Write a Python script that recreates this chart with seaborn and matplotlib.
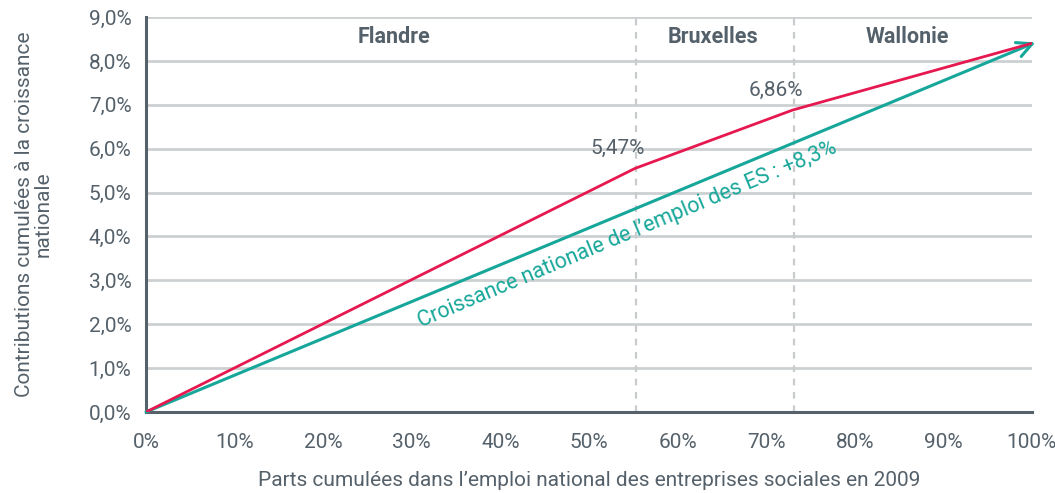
import matplotlib
matplotlib.use('Agg')
import matplotlib.pyplot as plt
import seaborn as sns
import pandas as pd
from matplotlib.ticker import FuncFormatter

# Cumulative shares of national employment (x, %) and cumulative contributions (y, %)
parts_cumulees = [0.0, 55.2, 73.0, 100.0]
contributions = [0.0, 5.55, 6.88, 8.40]
croissance_nationale = 8.42
frontieres = [55.3, 73.1]
regions = ['Flandre', 'Bruxelles', 'Wallonie']
regions_x = [28.0, 64.0, 86.0]
etiquettes = ['5,47%', '6,86%']
etiquettes_x = [53.2, 71.1]
etiquettes_y = [6.0, 7.33]

df = pd.DataFrame({'x': parts_cumulees, 'y': contributions})

sns.set_theme(style='white')
plt.rcParams['font.family'] = ['Roboto', 'DejaVu Sans']

txt = '#55616a'
spine = '#56626a'
red = '#e5194f'
teal = '#17a79a'
fs = 15

fig = plt.figure(figsize=(10.55, 4.93), dpi=100)
ax = fig.add_axes([0.1384, 0.1643, 0.978 - 0.1384, 0.9655 - 0.1643])

for yv in range(1, 10):
    ax.axhline(yv, color='#cdd0d2', lw=2, zorder=0)
for fx in frontieres:
    ax.axvline(fx, color='#c9cccd', lw=1.6, ls=(0, (3, 3)), zorder=1)

# national growth line as arrow
ax.annotate('', xy=(100.4, croissance_nationale), xytext=(0, 0),
            arrowprops=dict(arrowstyle='->,head_length=0.9,head_width=0.45',
                            color=teal, lw=2.2, shrinkA=0, shrinkB=0),
            annotation_clip=False, zorder=3)

sns.lineplot(data=df, x='x', y='y', color=red, lw=2, ax=ax, zorder=4)

for name, rx in zip(regions, regions_x):
    ax.text(rx, 8.55, name, ha='center', va='center', fontsize=15.5,
            fontweight='bold', color=txt)
for lab, lx, ly in zip(etiquettes, etiquettes_x, etiquettes_y):
    ax.text(lx, ly, lab, ha='center', va='center', fontsize=fs, color=txt)

ax.text(54.3, 4.05, 'Croissance nationale de l\u2019emploi des ES : +8,3%',
        rotation=22.8, rotation_mode='anchor', ha='center', va='center',
        fontsize=15.5, color=teal)

ax.set_xlim(0, 100)
ax.set_ylim(0, 9)
ax.set_xticks(range(0, 101, 10))
ax.set_yticks(range(0, 10))
ax.xaxis.set_major_formatter(FuncFormatter(lambda v, p: f'{int(v)}%'))
ax.yaxis.set_major_formatter(FuncFormatter(lambda v, p: f'{v:.1f}%'.replace('.', ',')))

for s in ['top', 'right']:
    ax.spines[s].set_visible(False)
for s in ['left', 'bottom']:
    ax.spines[s].set_color(spine)
    ax.spines[s].set_linewidth(2.2)
ax.tick_params(axis='both', direction='out', length=7, width=2, color=spine,
               labelcolor=txt, labelsize=fs)
ax.tick_params(axis='x', pad=8)

ax.set_xlabel('Parts cumulées dans l\u2019emploi national des entreprises sociales en 2009',
              fontsize=fs, color=txt, labelpad=14)
ax.set_ylabel('Contributions cumulées à la croissance\nnationale', fontsize=fs,
              color=txt, labelpad=26, linespacing=0.95)

fig.savefig('out.png', dpi=100)
